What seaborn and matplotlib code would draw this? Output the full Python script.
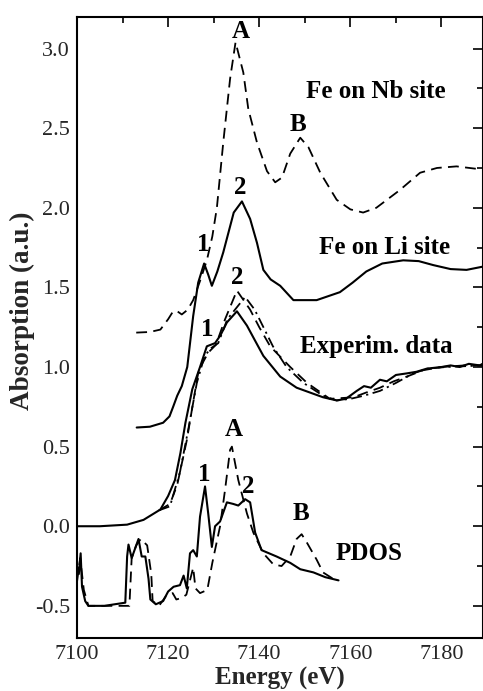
import matplotlib
matplotlib.use("Agg")
import matplotlib.pyplot as plt
import seaborn as sns
import numpy as np
import pandas as pd
from matplotlib.ticker import MultipleLocator

# ---------------- data ----------------
nb_E = [7113, 7116, 7118.3, 7120, 7121.1, 7122, 7123, 7124.3, 7125.5, 7127, 7128.5, 7129.7,
        7130.7, 7132.1, 7133.6, 7134.8, 7136.5, 7137.6, 7139.5, 7141.7, 7143.5, 7145, 7146.8,
        7149, 7150.8, 7153.4, 7157, 7160, 7162.8, 7165.7, 7170.8, 7175.3, 7179, 7183.3, 7189]
nb_v = [1.216, 1.22, 1.235, 1.30, 1.35, 1.35, 1.33, 1.36, 1.42, 1.54, 1.67, 1.82,
        2.0, 2.41, 2.81, 3.04, 2.85, 2.62, 2.41, 2.23, 2.16, 2.19, 2.34,
        2.44, 2.38, 2.22, 2.05, 1.99, 1.97, 2.0, 2.11, 2.22, 2.25, 2.26, 2.24]

li_E = [7113.1, 7116, 7118.9, 7120.3, 7121.1, 7122, 7123, 7124.2, 7125.5, 7126.6, 7127.9,
        7128.8, 7129.6, 7130.8, 7132.1, 7134.4, 7136.2, 7138, 7139.5, 7140.9, 7142.5, 7144.6,
        7147.5, 7150, 7152.6, 7157.7, 7160.5, 7163.5, 7167, 7171.6, 7175, 7178.2, 7182,
        7185.5, 7189]
li_v = [0.62, 0.625, 0.65, 0.69, 0.75, 0.82, 0.88, 1.0, 1.32, 1.53, 1.65,
        1.58, 1.51, 1.60, 1.72, 1.97, 2.04, 1.93, 1.78, 1.61, 1.55, 1.51,
        1.42, 1.42, 1.42, 1.47, 1.53, 1.60, 1.65, 1.67, 1.665, 1.64, 1.615,
        1.61, 1.63]

exp1_E = [7100, 7105, 7111, 7114.6, 7118.3, 7120, 7121.5, 7122.7, 7123.8, 7125.3, 7127,
          7128.5, 7130.3, 7131.5, 7132.9, 7135.1, 7137.3, 7139, 7140.9, 7144.6, 7148.2,
          7151.1, 7154, 7157, 7159, 7161.4, 7163, 7164.5, 7166.5, 7168, 7170, 7172.4,
          7174.5, 7176.8, 7180, 7182, 7184, 7186, 7188.4, 7189]
exp1_v = [0, 0, 0.01, 0.04, 0.105, 0.19, 0.29, 0.46, 0.65, 0.86, 1.0,
          1.13, 1.15, 1.20, 1.28, 1.35, 1.26, 1.17, 1.07, 0.94, 0.87,
          0.84, 0.81, 0.79, 0.80, 0.85, 0.88, 0.87, 0.92, 0.91, 0.95, 0.96,
          0.97, 0.99, 1.0, 1.01, 1.0, 1.02, 1.01, 1.02]

exp2_E = [7118, 7120.4, 7122, 7124.1, 7125.5, 7126.7, 7128.8, 7130.5, 7132.5, 7135.1, 7138,
          7140, 7142.4, 7146.8, 7150.5, 7155.5, 7160.7, 7163.5, 7166.5, 7169.5, 7172.4,
          7176, 7180, 7185, 7189]
exp2_v = [0.10, 0.14, 0.26, 0.54, 0.78, 0.98, 1.09, 1.14, 1.30, 1.48, 1.36,
          1.25, 1.13, 1.0, 0.90, 0.80, 0.81, 0.84, 0.87, 0.91, 0.94,
          0.98, 1.0, 1.01, 1.01]

exp3_E = [7118, 7120.4, 7122.6, 7124.5, 7126.3, 7128, 7129.5, 7131, 7133, 7136.9, 7139,
          7143, 7146, 7149.7, 7154, 7157, 7160, 7163, 7166.5, 7170, 7173.8, 7177, 7181, 7189]
exp3_v = [0.10, 0.125, 0.34, 0.62, 0.90, 1.07, 1.12, 1.15, 1.30, 1.44, 1.36,
          1.13, 1.0, 0.90, 0.82, 0.79, 0.80, 0.82, 0.85, 0.90, 0.96, 0.99, 1.0, 1.01]

pdos1_E = [7100, 7100.4, 7100.8, 7101.1, 7101.8, 7102.5, 7106, 7110.6, 7111, 7111.3, 7112,
           7113, 7113.5, 7114.2, 7115, 7115.7, 7116.1, 7117.3, 7118.9, 7120, 7121.2, 7122.6,
           7123.4, 7124.1, 7124.8, 7125.5, 7126.3, 7127, 7128.1, 7128.8, 7129.6, 7130.3,
           7131.4, 7132.9, 7134.3, 7135.4, 7136.9, 7138, 7139.1, 7140.5, 7143.8, 7146.8,
           7149, 7151.9, 7154.5, 7157.4]
pdos1_v = [-0.25, -0.30, -0.17, -0.38, -0.47, -0.50, -0.50, -0.48, -0.19, -0.115, -0.20,
           -0.12, -0.08, -0.19, -0.19, -0.33, -0.46, -0.49, -0.47, -0.41, -0.38, -0.37,
           -0.31, -0.39, -0.17, -0.15, -0.19, 0.06, 0.25, 0.08, -0.13, 0.0,
           0.03, 0.15, 0.14, 0.13, 0.17, 0.15, -0.04, -0.15, -0.19, -0.23,
           -0.27, -0.29, -0.32, -0.34]

pdos2_E = [7100, 7100.7, 7101.5, 7102.5, 7106, 7111.5, 7112, 7113, 7114, 7115.4, 7116.3,
           7116.6, 7118, 7119.5, 7121, 7121.8, 7123, 7124, 7125.5, 7126, 7127, 7128.6,
           7129.7, 7131.4, 7132.5, 7133.6, 7134, 7135.4, 7137.3, 7138.7, 7140.9, 7143.1,
           7144.9, 7146.8, 7148.2, 7149.3, 7150.4, 7152.6, 7154, 7156.2]
pdos2_v = [-0.35, -0.20, -0.40, -0.50, -0.50, -0.50, -0.20, -0.12, -0.08, -0.12, -0.30,
           -0.47, -0.50, -0.44, -0.42, -0.46, -0.45, -0.43, -0.26, -0.39, -0.42, -0.40,
           -0.23, 0.0, 0.23, 0.48, 0.50, 0.29, 0.08, -0.04, -0.17, -0.24,
           -0.25, -0.19, -0.08, -0.05, -0.10, -0.21, -0.29, -0.33]

# annotations
labels_text = ["A", "Fe on Nb site", "B", "2", "Fe on Li site", "1", "2", "1",
               "Experim. data", "A", "1", "2", "B", "PDOS"]
labels_E = [7135.9, 7165.5, 7148.6, 7135.8, 7167.4, 7127.6, 7135.2, 7128.6,
            7165.7, 7134.3, 7127.9, 7137.6, 7149.1, 7164.1]
labels_v = [3.11, 2.73, 2.52, 2.13, 1.75, 1.77, 1.56, 1.235,
            1.13, 0.61, 0.325, 0.25, 0.08, -0.17]

# ---------------- style ----------------
sns.set_style("white")
plt.rcParams['font.family'] = ['Liberation Serif', 'DejaVu Serif']

fig = plt.figure(figsize=(4.83, 6.91), dpi=100)
ax = fig.add_axes([77 / 483, 53.3 / 691, (482.5 - 77) / 483, (638 - 17) / 691])

dash = (0, (6, 3.5))
dashdot = (0, (6, 2.5, 1.2, 2.5))
curves = [
    (nb_E, nb_v, dash),
    (li_E, li_v, "-"),
    (exp1_E, exp1_v, "-"),
    (exp2_E, exp2_v, dash),
    (exp3_E, exp3_v, dashdot),
    (pdos1_E, pdos1_v, "-"),
    (pdos2_E, pdos2_v, dash),
]
for E, v, ls in curves:
    df = pd.DataFrame({"E": E, "v": v})
    sns.lineplot(data=df, x="E", y="v", sort=False, estimator=None, ax=ax,
                 linewidth=1.5 if ls == "-" else 1.3, color="black")
    ax.lines[-1].set_linestyle(ls)

for t, e, v in zip(labels_text, labels_E, labels_v):
    ax.text(e, v, t, ha="center", va="center", fontsize=18, fontweight="bold", color="black")

ax.set_xlim(7100, 7189)
ax.set_ylim(-0.7, 3.2)
ax.xaxis.set_major_locator(MultipleLocator(20))
ax.xaxis.set_minor_locator(MultipleLocator(10))
ax.yaxis.set_minor_locator(MultipleLocator(0.25))
ax.set_yticks([-0.5, 0.0, 0.5, 1.0, 1.5, 2.0, 2.5, 3.0])
ax.set_yticklabels(["-0.5", "0.0", "0.5", "1.0", "1.5", "2.0", "2.5", "3.0"])
ax.tick_params(which="both", direction="in", top=True, right=True, color="black",
               labelsize=16, width=1.2)
ax.tick_params(which="major", length=7, pad=5)
ax.tick_params(which="minor", length=4)
for s in ax.spines.values():
    s.set_color("black")
    s.set_linewidth(1.5)

ax.set_xlabel("Energy (eV)", fontsize=18, fontweight="bold", labelpad=2)
ax.set_ylabel("Absorption (a.u.)", fontsize=19.5, fontweight="bold")
ax.yaxis.set_label_coords(-0.104, 0.5266)

fig.savefig("out.png", dpi=100)
